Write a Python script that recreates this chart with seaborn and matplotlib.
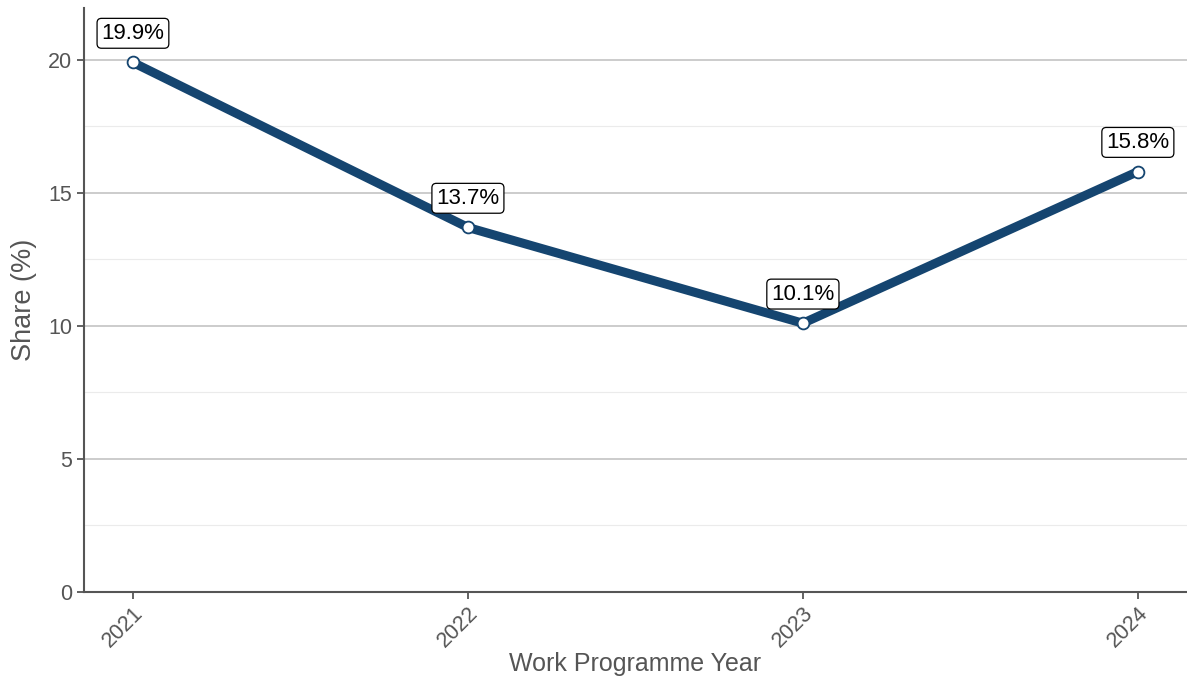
import numpy as np
import pandas as pd
import matplotlib
matplotlib.use("Agg")
import matplotlib.pyplot as plt
import seaborn as sns

# dados
anos = [2021, 2022, 2023, 2024]
share = [19.9, 13.7, 10.1, 15.8]
rotulos = ['19.9%', '13.7%', '10.1%', '15.8%']

df = pd.DataFrame({'ano': anos, 'share': share})

sns.set_style('white')
plt.rcParams['font.family'] = ['Liberation Sans', 'DejaVu Sans']

fig = plt.figure(figsize=(11.87, 6.88), dpi=100)
ax = fig.add_axes([0.0708, 0.1395, 0.929, 0.849])

cor = '#154570'
sns.lineplot(data=df, x='ano', y='share', ax=ax, color=cor, linewidth=6.5,
             marker='o', markersize=8.5, markerfacecolor='white',
             markeredgecolor=cor, markeredgewidth=1.3, zorder=3)

for x, y, t in zip(anos, share, rotulos):
    ax.annotate(t, (x, y), xytext=(0, 21), textcoords='offset points',
                ha='center', va='center', fontsize=16, color='black',
                bbox=dict(boxstyle='round,pad=0.2,rounding_size=0.2',
                          fc='white', ec='black', lw=0.9), zorder=5)

ax.set_xlim(2020.854, 2024.146)
ax.set_ylim(0, 21.95)
ax.set_xticks(anos)
ax.set_xticklabels([str(a) for a in anos], rotation=45, ha='right',
                   rotation_mode='anchor')
ax.set_yticks([0, 5, 10, 15, 20])
ax.set_yticks([2.5, 7.5, 12.5, 17.5], minor=True)
ax.grid(axis='y', which='major', color='#cccccc', linewidth=1.4, zorder=0)
ax.grid(axis='y', which='minor', color='#ebebeb', linewidth=0.8, zorder=0)
ax.set_axisbelow(True)

for s in ['top', 'right']:
    ax.spines[s].set_visible(False)
for s in ['left', 'bottom']:
    ax.spines[s].set_color('#555555')
    ax.spines[s].set_linewidth(1.5)

ax.tick_params(axis='both', which='major', length=5, width=1.3,
               bottom=True, left=True,
               color='#555555', labelcolor='#555555', labelsize=15.5)
ax.tick_params(axis='y', which='minor', length=0, left=False)
ax.tick_params(axis='x', pad=3)

ax.set_xlabel('Work Programme Year', fontsize=18, color='#555555', labelpad=0)
ax.set_ylabel('Share (%)', fontsize=19.5, color='#555555', labelpad=8)

fig.savefig('out.png', dpi=100)
